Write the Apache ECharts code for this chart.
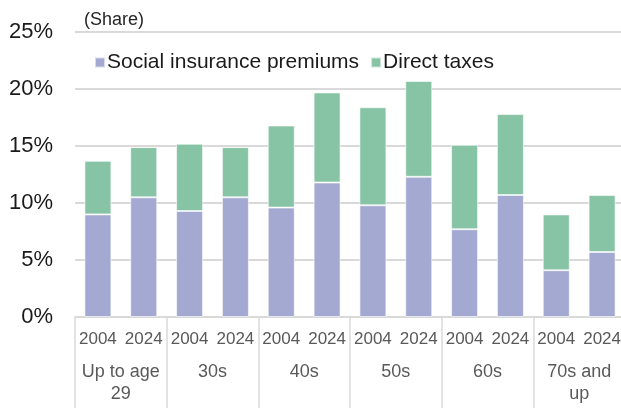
<!DOCTYPE html>
<html>
<head>
<meta charset="utf-8">
<script src="https://cdn.jsdelivr.net/npm/echarts@6/dist/echarts.min.js"></script>
<style>
  html, body { margin: 0; padding: 0; background: #fff; overflow: hidden; }
  /* canvas is a touch wider than the window so the last group runs off the edge */
  #chart { width: 625px; height: 408px; }
</style>
</head>
<body>
<div id="chart"></div>
<script>
// Burden shares by age group of household head, 2004 vs 2024
const years = ['2004', '2024'];
const ageGroups = ['Up to age\n29', '30s', '40s', '50s', '60s', '70s and\nup'];
const socialInsurance = [9.0, 10.5, 9.3, 10.5, 9.6, 11.8, 9.8, 12.3, 7.7, 10.7, 4.1, 5.7];
const directTaxes     = [4.7, 4.4, 5.9, 4.4, 7.2, 7.9, 8.6, 8.4, 7.4, 7.1, 4.9, 5.0];
const yTicks = [0, 5, 10, 15, 20, 25];

const barCategories = [];
ageGroups.forEach(g => years.forEach(y => barCategories.push(y)));

const font = 'Arial, "Liberation Sans", sans-serif';
const chart = echarts.init(document.getElementById('chart'));

chart.setOption({
  animation: false,
  textStyle: { fontFamily: font },
  grid: { left: 75, right: 0, top: 32, bottom: 91, containLabel: false },
  title: {
    text: '(Share)',
    left: 79, top: 6,
    textStyle: { fontFamily: font, fontSize: 18, fontWeight: 'normal', color: '#262626' }
  },
  legend: {
    left: 89, top: 47,
    itemWidth: 10, itemHeight: 10, itemGap: 11,
    icon: 'rect',
    textStyle: { fontFamily: font, fontSize: 21, color: '#1a1a1a', padding: [0, 0, 0, -3] },
    data: ['Social insurance premiums', 'Direct taxes']
  },
  xAxis: [
    {
      type: 'category',
      data: barCategories,
      position: 'bottom',
      axisLine: { show: true, lineStyle: { color: '#d9d9d9', width: 1.5 } },
      axisTick: { show: false },
      axisLabel: { interval: 0, margin: 14, fontSize: 17, color: '#595959', fontFamily: font }
    },
    {
      type: 'category',
      data: ageGroups,
      position: 'bottom',
      axisLine: { show: false },
      axisTick: { show: true, length: 92, interval: 0, lineStyle: { color: '#d9d9d9', width: 1.5 } },
      axisLabel: { interval: 0, margin: 44, fontSize: 18, color: '#595959', lineHeight: 22, fontFamily: font }
    }
  ],
  yAxis: {
    type: 'value',
    min: yTicks[0], max: yTicks[yTicks.length - 1], interval: 5,
    axisLine: { show: false },
    axisTick: { show: false },
    splitLine: { lineStyle: { color: '#d9d9d9', width: 2 } },
    axisLabel: { formatter: '{value}%', fontSize: 22, color: '#1a1a1a', margin: 22, fontFamily: font }
  },
  series: [
    {
      name: 'Social insurance premiums',
      type: 'bar', stack: 'burden', xAxisIndex: 0,
      data: socialInsurance,
      barWidth: 27,
      itemStyle: { color: '#a3a9d1', borderColor: 'rgba(255,255,255,0.6)', borderWidth: 1 }
    },
    {
      name: 'Direct taxes',
      type: 'bar', stack: 'burden', xAxisIndex: 0,
      data: directTaxes,
      barWidth: 27,
      itemStyle: { color: '#87c3a5', borderColor: 'rgba(255,255,255,0.6)', borderWidth: 1 }
    }
  ]
});
</script>
</body>
</html>
